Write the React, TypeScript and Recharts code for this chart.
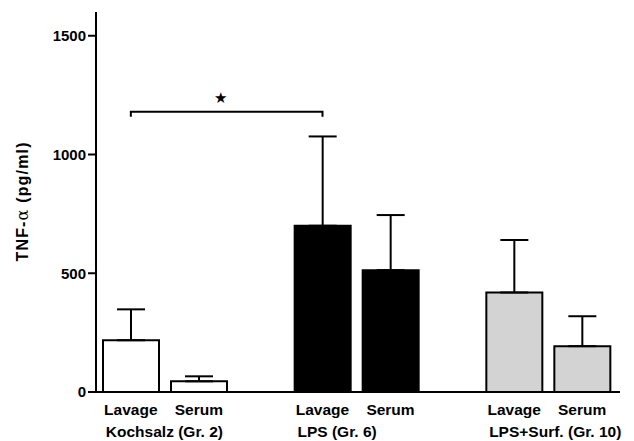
import { Bar, BarChart, Cell, ErrorBar, Label, ReferenceLine, XAxis, YAxis } from 'recharts';

const groups = ['Kochsalz (Gr. 2)', 'LPS (Gr. 6)', 'LPS+Surf. (Gr. 10)'];
const lavage = [218, 700, 419];
const lavageErr = [130, 376, 221];
const serum = [45, 513, 193];
const serumErr = [21, 232, 126];
const groupFills = ['#ffffff', '#000000', '#d3d3d3'];
const yTicks = [0, 500, 1000, 1500];
const bracketLevel = 1180;

const FONT = '"Liberation Sans", Arial, sans-serif';
const BAR = 56;
const GAP = 12;
const HALF_PITCH = (BAR + GAP) / 2;

const data = groups.map((g, i) => ({
  group: g,
  lavage: lavage[i],
  lavageErr: [0, lavageErr[i]],
  serum: serum[i],
  serumErr: [0, serumErr[i]],
}));

const GroupTick = ({ x, y, payload }: any) => (
  <g fontFamily={FONT} fontWeight="bold" fontSize={15.5} fill="#000">
    <text x={x - HALF_PITCH} y={y + 23} textAnchor="middle">Lavage</text>
    <text x={x + HALF_PITCH} y={y + 23} textAnchor="middle">Serum</text>
    <text x={x - BAR - GAP / 2 + 3} y={y + 45} textAnchor="start">{payload.value}</text>
  </g>
);

const Bracket = (p: any) => {
  const x1 = p.x1 - HALF_PITCH;
  const x2 = p.x2 - HALF_PITCH;
  const y = p.y1;
  return (
    <g>
      <path d={`M${x1},${y + 5}V${y}H${x2}V${y + 5}`} stroke="#000" strokeWidth={2} fill="none" />
      <text x={(x1 + x2) / 2 - 6} y={y - 9} textAnchor="middle" fontSize={15} fontFamily='"DejaVu Sans", sans-serif' fill="#000">
        ★
      </text>
    </g>
  );
};

const YLabel = ({ viewBox }: any) => {
  const cx = viewBox.x + 22;
  const cy = viewBox.y + viewBox.height / 2;
  return (
    <text
      x={cx}
      y={cy}
      transform={`rotate(-90, ${cx}, ${cy})`}
      textAnchor="middle"
      dominantBaseline="central"
      fontFamily={FONT}
      fontWeight="bold"
      fontSize={16}
      textLength={119}
      lengthAdjust="spacing"
      fill="#000"
    >
      TNF-<tspan fontWeight="normal" fontFamily='"DejaVu Serif", serif'>α</tspan> (pg/ml)
    </text>
  );
};

export default function App() {
  return (
    <div style={{ position: 'absolute', left: 0, top: 0, width: 634, height: 441, background: '#fff' }}>
      <BarChart width={634} height={441} data={data} margin={{ top: 12, right: 14, bottom: 0, left: 0 }} barGap={GAP}>
        <XAxis
          dataKey="group"
          height={49}
          padding={{ left: -27, right: -24 }}
          axisLine={{ stroke: '#000', strokeWidth: 2 }}
          tickLine={false}
          tickSize={0}
          tickMargin={0}
          tick={<GroupTick />}
          interval={0}
        />
        <YAxis
          width={96}
          domain={[0, 1600]}
          ticks={yTicks}
          axisLine={{ stroke: '#000', strokeWidth: 2 }}
          tickLine={{ stroke: '#000', strokeWidth: 2 }}
          tickSize={8}
          tickMargin={2}
          tick={{ fill: '#000', fontSize: 15, fontWeight: 'bold', fontFamily: FONT }}
        >
          <Label content={<YLabel />} />
        </YAxis>
        <Bar dataKey="lavage" barSize={BAR} stroke="#000" strokeWidth={2} isAnimationActive={false}>
          {data.map((_, i) => (
            <Cell key={i} fill={groupFills[i]} />
          ))}
          <ErrorBar dataKey="lavageErr" width={14} stroke="#000" strokeWidth={2} direction="y" />
        </Bar>
        <Bar dataKey="serum" barSize={BAR} stroke="#000" strokeWidth={2} isAnimationActive={false}>
          {data.map((_, i) => (
            <Cell key={i} fill={groupFills[i]} />
          ))}
          <ErrorBar dataKey="serumErr" width={14} stroke="#000" strokeWidth={2} direction="y" />
        </Bar>
        <ReferenceLine
          segment={[
            { x: groups[0], y: bracketLevel },
            { x: groups[1], y: bracketLevel },
          ]}
          shape={<Bracket />}
        />
      </BarChart>
    </div>
  );
}
